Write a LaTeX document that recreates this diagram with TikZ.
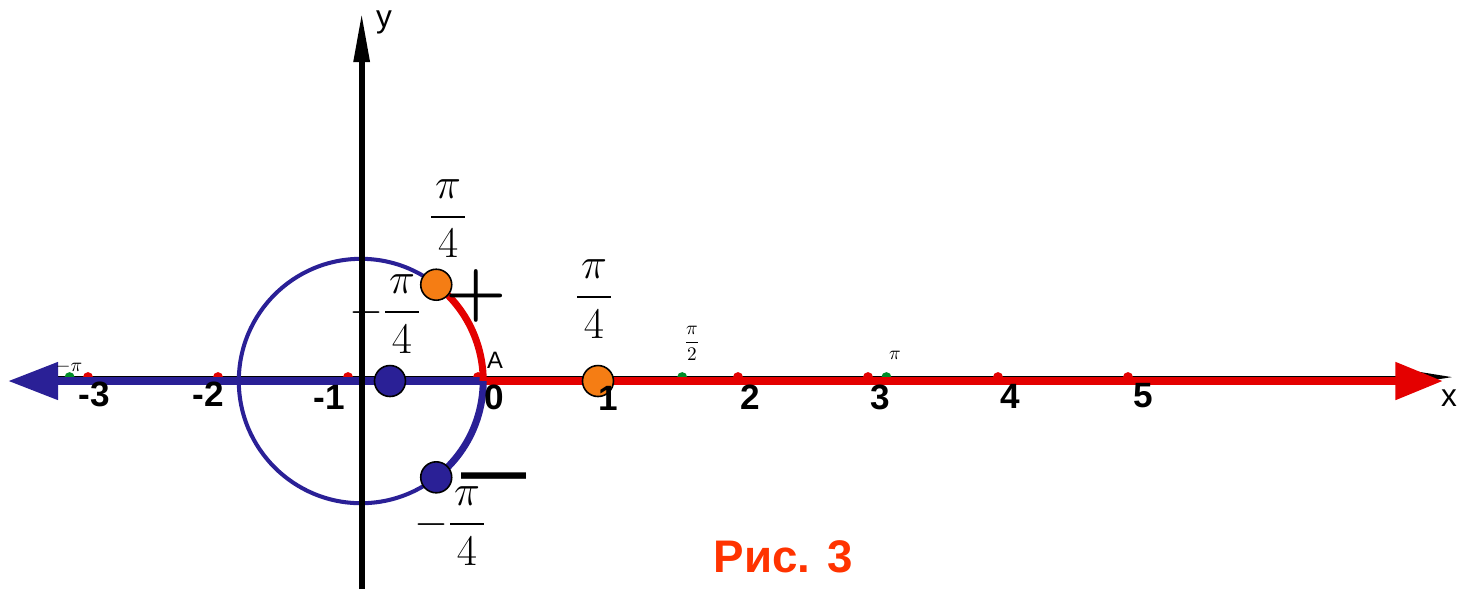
\documentclass[tikz,border=0pt]{standalone}
\usepackage{amsmath}
\usepackage{fontspec}
\setsansfont{Liberation Sans}
\usepackage{tikz}
\usetikzlibrary{arrows.meta, positioning, calc}
\definecolor{myblue}{RGB}{42,32,150}
\definecolor{myred}{RGB}{228,0,0}
\definecolor{myorange}{RGB}{245,125,20}
\definecolor{mygreen}{RGB}{0,140,40}
\definecolor{mycaption}{RGB}{255,51,0}
\newcommand{\pifrac}[1]{\dfrac{\pi}{\hspace{0.15em}#1\hspace{0.15em}}}
\tikzset{
  axisline/.style={line width=1.7pt, color=black},
  blueline/.style={line width=4.5pt, color=myblue},
  redline/.style={line width=4.5pt, color=myred},
  bigdot/.style={circle, draw=black, line width=0.9pt,
    minimum size=0.62cm, inner sep=0pt},
  tickdot/.style={circle, fill=myred, minimum size=0.2cm, inner sep=0pt},
  pidot/.style={circle, fill=mygreen, minimum size=0.2cm, inner sep=0pt},
  ticklbl/.style={font=\sffamily\bfseries\fontsize{20}{22}\selectfont, inner sep=0pt},
  fraclbl/.style={font=\fontsize{25}{27}\selectfont, inner sep=0pt},
  smalllbl/.style={font=\fontsize{11}{12}\selectfont, inner sep=0pt}
}

\begin{document}
\begin{tikzpicture}[x=2.6cm, y=2.6cm]
  \useasboundingbox (-3.677,-1.6) rectangle (7.531,2.931);
  \coordinate (A) at (0.04,0);
  \coordinate (C) at (-0.9,0);
  \coordinate (xleft) at (-3.615,0);
  \coordinate (xright) at (7.423,0);

  % x axis
  \draw[axisline, -{Triangle[width=0.2cm, length=0.7cm]}] (-3.4,0.03) -- (7.5,0.03);
  \foreach \k in {-3,...,5}
    \node[tickdot] (t\k) at (\k,0.03) {};
  \foreach \p/\n in {-3.1416/m, 1.5708/h, 3.1416/p}
    \node[pidot] (g\n) at (\p,0.03) {};

  % number line halves
  \draw[blueline, -{Triangle[width=0.72cm, length=1.0cm]}] (A) -- (xleft);
  \draw[redline, -{Triangle[width=0.72cm, length=0.95cm]}] (A) -- (xright);

  % unit circle and arcs
  \draw[myblue, line width=2.3pt] (C) circle (0.94);
  \draw[redline, line width=4pt] ($(C)+(0:0.94)$) arc (0:52:0.94);
  \draw[blueline, line width=4pt] ($(C)+(-52:0.94)$) arc (-52:0:0.94);

  % y axis
  \draw[line width=3.4pt, -{Triangle[width=0.3cm, length=1cm]}] (-0.895,-1.6) -- (-0.895,2.838);

  % points
  \node[bigdot, fill=myorange] (ptop) at ($(C)+(52:0.94)$) {};
  \node[bigdot, fill=myblue] (pbot) at ($(C)+(-52:0.94)$) {};
  \node[bigdot, fill=myblue] (pleft) at (-0.677,0) {};
  \node[bigdot, fill=myorange] (pright) at (0.923,0) {};

  % fractions and signs
  \node[fraclbl] (ftop) at (-0.23,1.25) {$\pifrac{4}$};
  \node[fraclbl] (fright) at (0.892,0.631) {$\pifrac{4}$};
  \node[fraclbl, anchor=east] (fleft) at (-0.438,0.515) {$-\pifrac{4}$};
  \node[fraclbl, anchor=east] (fbot) at (0.062,-1.115) {$-\pifrac{4}$};
  \node[font=\bfseries\fontsize{40}{42}\selectfont, inner sep=0pt, text height=0.5em, text depth=0pt, anchor=base] (plus) at (-0.015,0.523) {+};
  \node[font=\sffamily\bfseries\fontsize{37}{40}\selectfont, inner sep=0pt, text height=0.32em, text depth=-0.22em, anchor=base] (minus) at (0.127,-0.862) {---};

  % tick labels
  \foreach \x/\y/\t in {-2.954/-0.1/-3, -2.077/-0.1/-2, -1.146/-0.123/-1, 0.123/-0.123/0,
      1.0/-0.13/1, 2.092/-0.123/2, 3.092/-0.123/3, 4.092/-0.115/4, 5.115/-0.115/5}
    \node[ticklbl] (l\t) at (\x,\y) {\t};
  \node[smalllbl] (lm) at (-3.146,0.108) {$-\pi$};
  \node[smalllbl] (lh) at (1.646,0.292) {$\dfrac{\pi}{2}$};
  \node[smalllbl] (lp) at (3.208,0.2) {$\pi$};
  \node[font=\sffamily\fontsize{13.5}{15}\selectfont, inner sep=0pt] (lA) at (0.131,0.162) {A};
  \node[font=\sffamily\fontsize{18}{20}\selectfont, inner sep=0pt] (ly) at (-0.723,2.762) {y};
  \node[font=\sffamily\fontsize{18}{20}\selectfont, inner sep=0pt] (lx) at (7.469,-0.131) {x};

  % caption
  \node[font=\sffamily\bfseries\fontsize{26}{28}\selectfont, text=mycaption, inner sep=0pt] (cap) at (2.35,-1.354) {Рис. 3};
\end{tikzpicture}
\end{document}
